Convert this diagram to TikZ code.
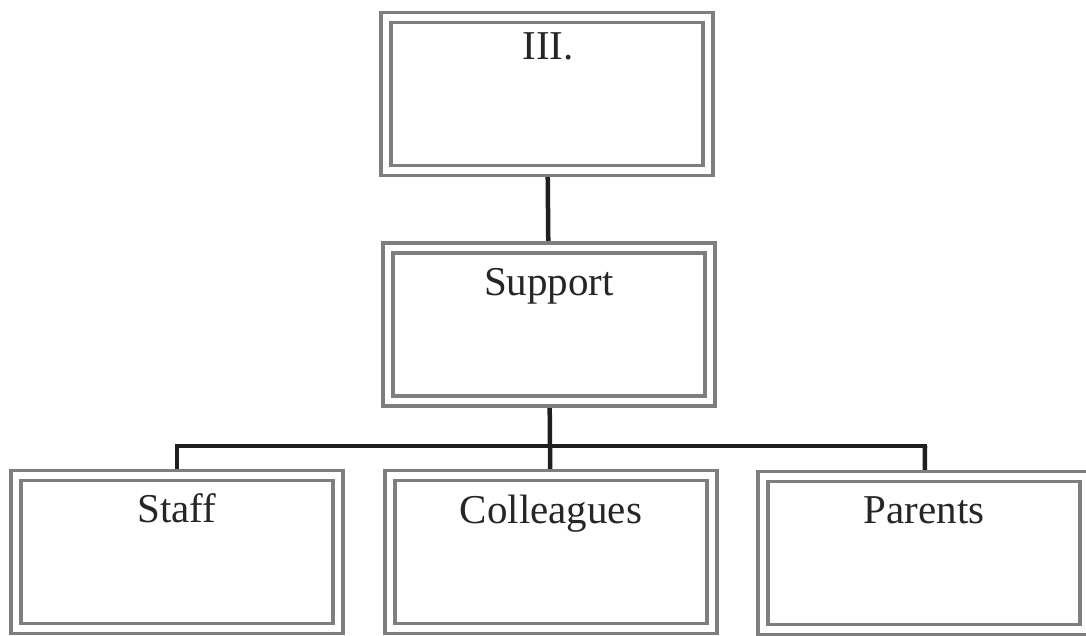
\documentclass[tikz,border=0pt]{standalone}
\usepackage{fontspec}
\setmainfont{Liberation Serif}
\usetikzlibrary{backgrounds}
\begin{document}
\begin{tikzpicture}[x=1pt,y=-1pt,
  box/.style={draw=boxgray, line width=3.2pt, double=white, double distance=6.8pt,
    fill=white, rectangle, minimum width=322pt, minimum height=153pt, inner sep=0pt},
  lbl/.style={anchor=base, inner sep=0pt, font=\fontsize{41}{48}\selectfont, text=black!85},
  link/.style={draw=black!88, line width=4.5pt}]
\definecolor{boxgray}{HTML}{7E7E7E}
\useasboundingbox (0,0) rectangle (1086,636);

% boxes
\node[box] (top) at (547,94) {};
\node[box] (support) at (549,324.5) {};
\node[box] (staff) at (177,552) {};
\node[box] (coll) at (551,552) {};
\node[box] (parents) at (924,553) {};

% labels
\node[lbl] (topT) at (548,60) {III.};
\node[lbl] (supportT) at (549,295) {Support};
\node[lbl] (staffT) at (177,522) {Staff};
\node[lbl] (collT) at (551,523) {Colleagues};
\node[lbl] (parentsT) at (924,523) {Parents};

% connectors, kept behind the boxes so the borders sit over their ends
\coordinate (bar) at (550,446);
\coordinate (barL) at (177,446);
\coordinate (barR) at (925,446);
\begin{scope}[on background layer]
\draw[link] (top.center) -- (support.center);
\draw[link] (support.center) -- (bar);
\draw[link, line cap=rect] (barL) -- (barR);
\draw[link] (barL) -- (staff.center);
\draw[link] (bar) -- (coll.center);
\draw[link] (barR) -- (parents.center);
\end{scope}
\end{tikzpicture}
\end{document}
